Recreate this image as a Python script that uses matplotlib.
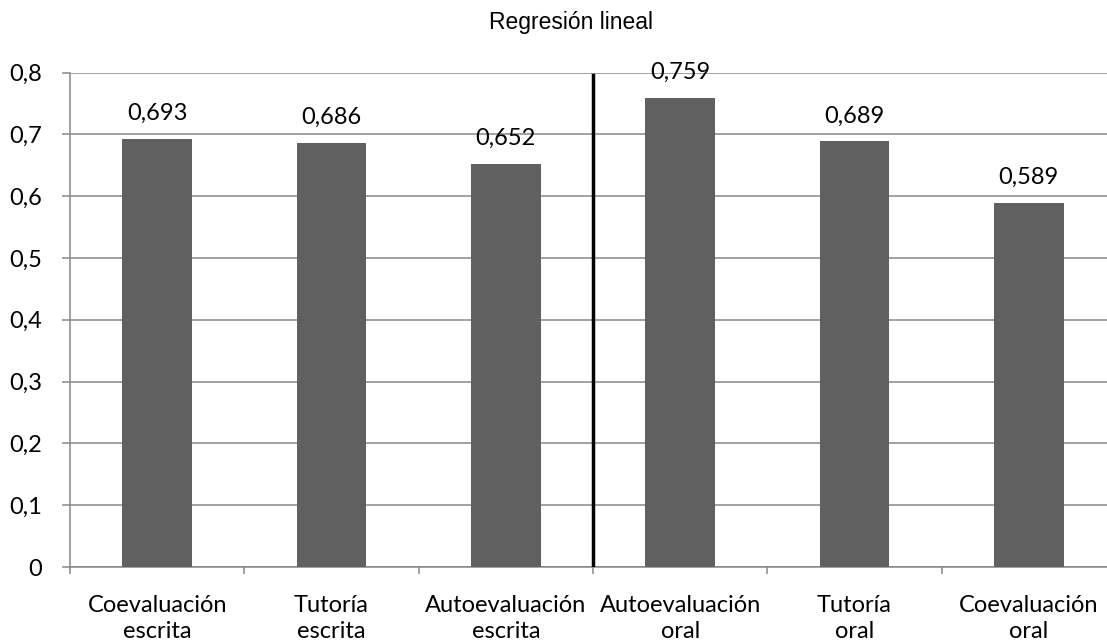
import matplotlib.pyplot as plt
import numpy as np

# Coeficientes de regresión por modalidad
categorias = ["Coevaluación\nescrita", "Tutoría\nescrita", "Autoevaluación\nescrita",
              "Autoevaluación\noral", "Tutoría\noral", "Coevaluación\noral"]
valores = [0.693, 0.686, 0.652, 0.759, 0.689, 0.589]
separador_x = 2.5
separador_top = 0.796
yticks = [0, 0.1, 0.2, 0.3, 0.4, 0.5, 0.6, 0.7, 0.8]

def coma(v):
    s = f"{v:.3f}".rstrip("0").rstrip(".") if v else "0"
    return s.replace(".", ",")

fig = plt.figure(figsize=(11.07, 6.43), dpi=100)
ax = fig.add_axes([70 / 1107, 1 - 567 / 643, 1046 / 1107, 494.5 / 643])

grid_color = "#878787"
x = np.arange(len(categorias))
ax.bar(x, valores, width=0.40, color="#606060", zorder=3)

for xi, v in zip(x, valores):
    ax.annotate(f"{v:.3f}".replace(".", ","), (xi, v), xytext=(0, 13.5),
                textcoords="offset points", ha="center", va="baseline",
                fontsize=17, family="Lato")

# línea que separa escrita / oral
ax.plot([separador_x, separador_x], [0, separador_top], color="black", lw=2.5, zorder=4)

ax.set_xlim(-0.5, len(categorias) - 0.5)
ax.set_ylim(0, 0.8)
ax.set_yticks(yticks)
ax.set_yticklabels([coma(t) for t in yticks], family="Lato", fontsize=17)
ax.yaxis.grid(True, color=grid_color, lw=1.1, zorder=0)

ax.set_xticks(x)
ax.set_xticklabels(categorias, family="Lato", fontsize=17, linespacing=1.3)
ax.set_xticks(np.arange(len(categorias) + 1) - 0.5, minor=True)
ax.tick_params(axis="x", which="major", length=0, pad=20)
ax.tick_params(axis="x", which="minor", length=5, color=grid_color, width=1.1)
ax.tick_params(axis="y", length=6, color=grid_color, width=1.1, pad=14)

for side in ["top", "right"]:
    ax.spines[side].set_visible(False)
for side in ["left", "bottom"]:
    ax.spines[side].set_color(grid_color)
    ax.spines[side].set_linewidth(1.1)

fig.text(571 / 1107, 1 - 23 / 643, "Regresión lineal", ha="center", va="center",
         family="Liberation Sans", fontsize=16.5)

fig.savefig("out.png", dpi=100)
